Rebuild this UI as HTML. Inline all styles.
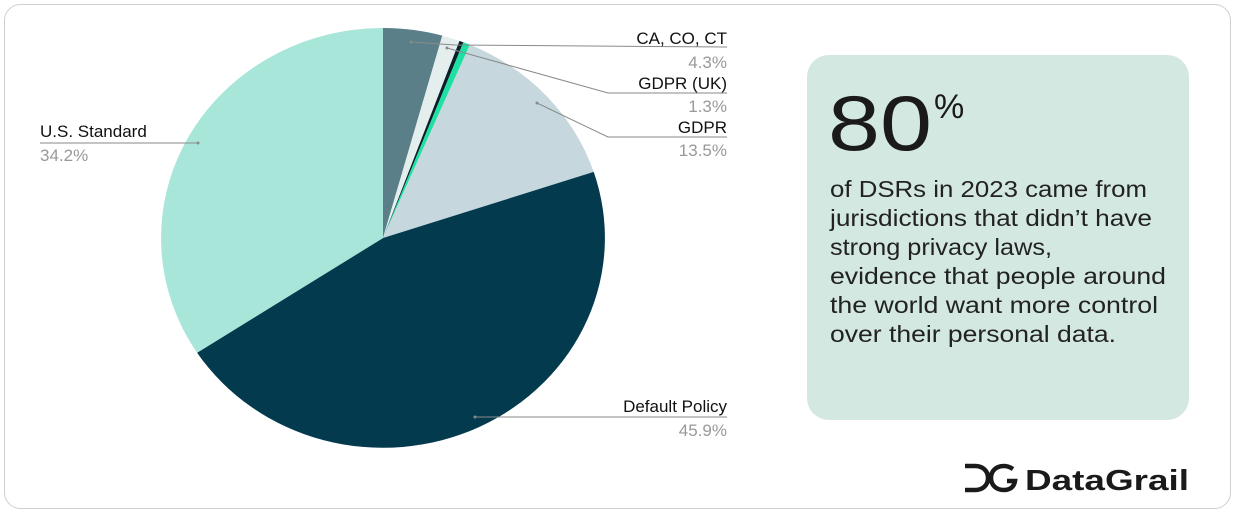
<!DOCTYPE html>
<html><head><meta charset="utf-8"><style>
html,body{margin:0;padding:0;background:#fff;}
svg{display:block;font-family:"Liberation Sans",sans-serif;}
</style></head><body>
<svg width="1236" height="513" viewBox="0 0 1236 513">
<rect x="4.5" y="4.5" width="1226" height="504" rx="16" fill="#fff" stroke="#cfcfcf"/>
<path d="M383,238 L383,28 A222,210 0 0 1 442.3,35.6 Z" fill="#5a7f88"/>
<path d="M383,238 L442.3,35.6 A222,210 0 0 1 459.5,40.9 Z" fill="#e4eeed"/>
<path d="M383,238 L459.5,40.9 A222,210 0 0 1 463.4,42.3 Z" fill="#0a1f2a"/>
<path d="M383,238 L463.4,42.3 A222,210 0 0 1 469.9,44.7 Z" fill="#1ee0a2"/>
<path d="M383,238 L469.9,44.7 A222,210 0 0 1 593.7,171.9 Z" fill="#c6d8dd"/>
<path d="M383,238 L593.7,171.9 A222,210 0 0 1 197.1,352.7 Z" fill="#033a4d"/>
<path d="M383,238 L197.1,352.7 A222,210 0 0 1 383,28 Z" fill="#a8e6da"/>
<g stroke="#8a8a8a" stroke-width="1" fill="none">
<polyline points="411,42 455,45 727,47"/>
<polyline points="447,48 608,93 727,93"/>
<polyline points="537,103 608,137 727,137"/>
<polyline points="198,143 40,143"/>
<polyline points="475,417 727,417"/>
</g>
<g fill="#8a8a8a"><circle cx="411" cy="42" r="1.5"/><circle cx="447" cy="48" r="1.5"/><circle cx="537" cy="103" r="1.5"/><circle cx="198" cy="143" r="1.5"/><circle cx="475" cy="417" r="1.5"/></g>
<g font-size="17" text-anchor="end">
<text x="727" y="44" fill="#111">CA, CO, CT</text>
<text x="727" y="68" fill="#999">4.3%</text>
<text x="727" y="89" fill="#111">GDPR (UK)</text>
<text x="727" y="112" fill="#999">1.3%</text>
<text x="727" y="133" fill="#111">GDPR</text>
<text x="727" y="156" fill="#999">13.5%</text>
<text x="727" y="412" fill="#111">Default Policy</text>
<text x="727" y="436" fill="#999">45.9%</text>
</g>
<text x="40" y="137" font-size="17" fill="#111">U.S. Standard</text>
<text x="40" y="161" font-size="17" fill="#999">34.2%</text>
<rect x="807" y="55" width="382" height="365" rx="22" fill="#d3e8e1"/>
<text x="828" y="150" font-size="78" fill="#1a1a1a" textLength="104" lengthAdjust="spacingAndGlyphs">80</text>
<text x="934" y="118" font-size="34" fill="#1a1a1a">%</text>
<g font-size="23" fill="#222">
<text x="830" y="197" textLength="317" lengthAdjust="spacingAndGlyphs">of DSRs in 2023 came from</text>
<text x="830" y="226" textLength="322" lengthAdjust="spacingAndGlyphs">jurisdictions that didn’t have</text>
<text x="830" y="255" textLength="222" lengthAdjust="spacingAndGlyphs">strong privacy laws,</text>
<text x="830" y="284" textLength="336" lengthAdjust="spacingAndGlyphs">evidence that people around</text>
<text x="830" y="313" textLength="328" lengthAdjust="spacingAndGlyphs">the world want more control</text>
<text x="830" y="342" textLength="286" lengthAdjust="spacingAndGlyphs">over their personal data.</text>
</g>
<g fill="none" stroke="#1a1a1a" stroke-width="4.5">
<path d="M965,466 h10 c8,0 13,5 13,12 c0,7 -5,12 -13,12 h-10"/>
<path d="M1013,469 c-3,-2 -6,-3 -9,-3 c-8,0 -13,5 -13,12 c0,7 5,12 13,12 c6,0 10,-3 11,-9 h-8"/>
</g>
<text x="1025" y="490" font-size="29" font-weight="bold" fill="#1a1a1a" textLength="164" lengthAdjust="spacingAndGlyphs">DataGrail</text>
</svg>
</body></html>
